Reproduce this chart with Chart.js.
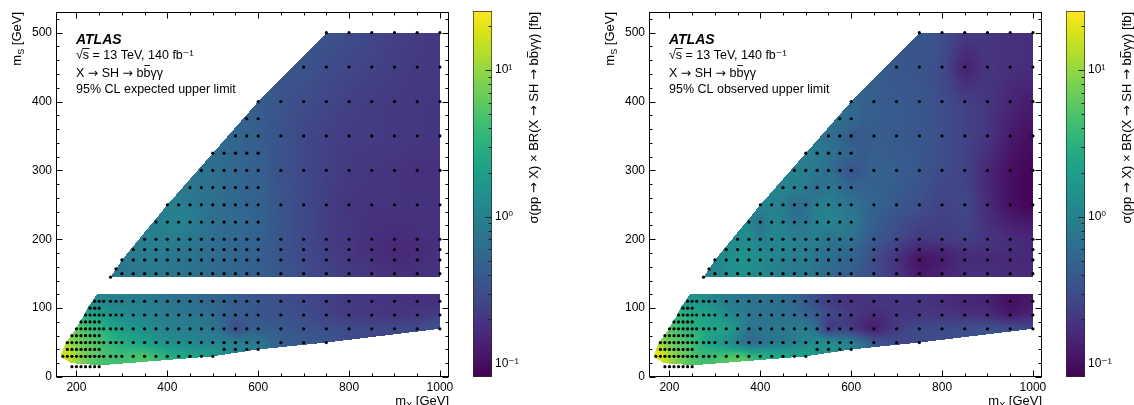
<!DOCTYPE html>
<html><head><meta charset="utf-8">
<script src="https://cdn.jsdelivr.net/npm/chart.js@4.4.1/dist/chart.umd.min.js"></script>
<style>
html,body{margin:0;padding:0;background:#fff;width:1134px;height:405px;overflow:hidden}
canvas{position:absolute;top:0}
</style></head><body>
<canvas id="m1" width="460" height="405" style="left:0px"></canvas>
<canvas id="c1" width="81" height="405" style="left:460px"></canvas>
<canvas id="m2" width="460" height="405" style="left:593px"></canvas>
<canvas id="c2" width="81" height="405" style="left:1053px"></canvas>
<script>
// ---------------- DATA ----------------
// Low-mS block: rows of m_S [GeV], m_X grid points per row [GeV]
const mS_low = [15, 30, 40, 50, 60, 70, 80, 90, 100, 110];
const mX_low = [
  [190,200,210,220,230,240,250],
  [170,180,190,200,210,220,230,240,250,260,275,287,300,325,350,375,400,425,450,475,500],
  [180,190,200,210,220,230,240,250,525,550,575,600],
  [180,190,200,210,220,230,240,250,260,275,287,300,325,350,375,400,425,450,475,500,525,550,575,600,650,700,750],
  [190,200,210,220,230,240,250],
  [200,210,220,230,240,250,260,275,287,300,325,350,375,400,425,450,475,500,525,550,575,600,650,700,750,800,850,900,950,1000],
  [210,220,230,240,250],
  [220,230,240,250,260,275,287,300,325,350,375,400,425,450,475,500,525,550,575,600,650,700,750,800,850,900,950,1000],
  [230,240,250],
  [240,250,260,275,287,300,325,350,375,400,425,450,475,500,525,550,575,600,650,700,750,800,850,900,950,1000]
];
// expected upper limit [fb]
const exp_low = [
  [12,9,7,6,5,4.5,4],
  [20,18,14,11,9,7.5,6.5,6,5.5,5,4.5,4.3,4.3,4.6,5.5,4.2,3.3,2.8,2.5,2.2,2.0],
  [16,13,10,8.5,7.5,6.5,6,5.5,1.1,1.0,0.95,0.9],
  [11,9,7.5,6.5,6,5.5,5,4.5,3.8,3.4,3.1,2.8,2.4,2.0,1.6,1.3,1.2,1.1,1.0,1.0,1.1,1.05,0.9,0.75,0.45,0.4,0.38],
  [9,7.5,6.5,5.5,5,4.5,4],
  [6.5,5.5,4.5,4,3.6,3.3,2.8,2.5,2.2,1.9,1.6,1.4,1.15,1.0,0.95,0.9,0.85,0.75,0.55,0.25,0.4,0.45,0.4,0.35,0.32,0.3,0.28,0.28,0.3,0.38],
  [4.5,3.8,3.3,3,2.8],
  [2.6,2.3,2.1,1.9,1.7,1.5,1.4,1.3,1.15,1.05,0.95,0.88,0.82,0.78,0.7,0.6,0.5,0.42,0.4,0.37,0.33,0.3,0.24,0.21,0.2,0.2,0.2,0.22],
  [1.8,1.6,1.45],
  [1.2,1.1,1.05,1.0,1.0,0.98,0.95,0.9,0.82,0.75,0.68,0.62,0.57,0.52,0.48,0.44,0.4,0.37,0.32,0.28,0.24,0.21,0.2,0.19,0.18,0.18]
];
// observed upper limit [fb]
const obs_low = [
  [14,10,8,7,6,5.5,5],
  [24,22,16,12,10,8,7,6,5,4.5,4.2,4.2,4.5,5.5,6.5,5,3.5,3,2.8,2.6,2.4],
  [18,12,9,8,7,6.5,6,5.5,1.3,1.5,1.2,1.0],
  [9,7.5,6.5,6,5.5,5,4.5,4,3.2,2.6,2.2,1.8,1.2,0.8,0.45,0.6,0.7,0.72,0.8,1.1,1.4,1.5,1.3,1.1,0.4,0.3,0.28],
  [8,7,6,5,4.5,4,3.6],
  [6,5,4.5,4,3.5,3,2.6,2.4,2.3,2.2,2.6,1.4,0.7,0.8,0.8,0.85,0.9,1.0,0.6,0.15,0.25,0.18,0.11,0.22,0.3,0.3,0.32,0.35,0.33,0.3],
  [4,3.5,3,2.8,2.6],
  [4,3.5,3,2.8,2.5,2.3,2.1,2.0,1.2,1.0,0.8,0.7,0.7,0.65,0.6,0.5,0.4,0.3,0.25,0.22,0.16,0.2,0.2,0.2,0.18,0.17,0.11,0.15],
  [2.6,2.2,2.0],
  [1.4,1.5,1.4,1.3,1.2,1.1,0.9,0.8,0.75,0.7,0.65,0.6,0.55,0.4,0.3,0.22,0.2,0.18,0.2,0.2,0.19,0.17,0.15,0.14,0.1,0.12]
];
// High-mS block
const mS_up = [145, 150, 157, 170, 185, 200, 225, 250, 275, 300, 325, 350, 375, 400, 450, 500];
const mX_up = [
  [275],
  [300,325,350,375,400,425,450,475,500,525,550,575,600,650,700,750,800,850,900,950,1000],
  [287],
  [300,325,350,375,400,425,450,475,500,525,550,575,600,650,700,750,800,850,900,950,1000],
  [325,350,375,400,425,450,475,500,525,550,575,600,650,700,750,800,850,900,950,1000],
  [350,375,400,425,450,475,500,525,550,575,600,650,700,750,800,850,900,950,1000],
  [375,400,425,450,475,500,525,550,575,600],
  [400,425,450,475,500,525,550,575,600,650,700,750,800,850,900,950,1000],
  [450,475,500,525,550,575,600],
  [475,500,525,550,575,600,650,700,750,800,850,900,950,1000],
  [500,525,550,575,600],
  [550,575,600,650,700,750,800,850,900,950,1000],
  [575,600],
  [600,650,700,750,800,850,900,950,1000],
  [700,750,800,850,900,950,1000],
  [750,800,850,900,950,1000]
];
const exp_up = [
  [0.72],
  [0.75,0.8,0.82,0.82,0.78,0.74,0.7,0.65,0.6,0.56,0.53,0.5,0.46,0.38,0.3,0.25,0.22,0.2,0.18,0.18,0.19],
  [0.76],
  [0.8,0.85,0.88,0.85,0.8,0.76,0.7,0.65,0.6,0.56,0.53,0.5,0.46,0.37,0.29,0.24,0.2,0.18,0.16,0.17,0.18],
  [0.85,0.9,0.9,0.86,0.8,0.74,0.68,0.62,0.57,0.53,0.5,0.46,0.36,0.28,0.23,0.2,0.17,0.155,0.165,0.18],
  [0.9,0.95,0.92,0.88,0.8,0.72,0.64,0.58,0.55,0.52,0.48,0.36,0.28,0.23,0.2,0.18,0.16,0.17,0.18],
  [0.92,1.02,1.1,0.95,0.78,0.66,0.6,0.57,0.55,0.5],
  [0.9,0.92,0.85,0.74,0.66,0.6,0.55,0.52,0.48,0.36,0.28,0.23,0.19,0.19,0.19,0.19,0.19],
  [0.8,0.74,0.66,0.6,0.55,0.51,0.47],
  [0.72,0.66,0.6,0.55,0.5,0.45,0.34,0.28,0.24,0.21,0.2,0.19,0.18,0.18],
  [0.62,0.57,0.52,0.48,0.44],
  [0.55,0.5,0.44,0.34,0.28,0.24,0.22,0.22,0.21,0.2,0.2],
  [0.48,0.43],
  [0.43,0.36,0.3,0.27,0.24,0.22,0.21,0.2,0.2],
  [0.36,0.3,0.27,0.25,0.23,0.21,0.2],
  [0.36,0.3,0.27,0.24,0.22,0.21]
];
const obs_up = [
  [1.0],
  [1.0,1.2,1.4,1.3,1.2,1.0,0.9,0.8,0.85,0.7,0.6,0.5,0.45,0.3,0.2,0.12,0.14,0.18,0.18,0.17,0.16],
  [1.1],
  [1.1,1.3,1.5,1.4,1.3,1.1,1.0,0.85,0.9,0.7,0.6,0.55,0.5,0.3,0.18,0.1,0.12,0.16,0.16,0.15,0.15],
  [1.2,1.3,1.4,1.2,0.9,1.1,1.0,0.9,0.8,0.7,0.6,0.55,0.33,0.22,0.14,0.15,0.18,0.18,0.17,0.16],
  [1.2,1.3,0.9,1.2,1.1,1.0,0.9,1.0,0.6,0.8,0.7,0.4,0.28,0.2,0.22,0.24,0.2,0.17,0.15],
  [1.2,0.6,1.1,1.0,0.7,0.75,1.0,1.1,1.0,0.8],
  [1.2,1.0,0.9,0.55,0.6,0.95,1.0,0.85,0.7,0.5,0.4,0.33,0.24,0.28,0.16,0.1,0.085],
  [1.1,1.0,0.9,0.55,0.8,0.65,0.5],
  [0.95,0.9,0.8,0.6,0.5,0.32,0.5,0.45,0.38,0.3,0.25,0.15,0.1,0.085],
  [0.9,0.85,0.7,0.6,0.5],
  [0.65,0.55,0.35,0.45,0.4,0.38,0.32,0.25,0.2,0.12,0.1],
  [0.65,0.6],
  [0.55,0.45,0.4,0.38,0.3,0.24,0.2,0.15,0.12],
  [0.38,0.36,0.3,0.13,0.2,0.18,0.17],
  [0.38,0.33,0.22,0.2,0.18,0.17]
];
// interpolation domains (outline of each block, in GeV)
const lowRegionX = [245,1000,1000,750,600,500,253,190,172,166,176,190,209,226,245];
const lowRegionY = [120,120,70,50,40,30,17,20,26,33,49,61,81,102,120];
const upRegionX  = [275,1000,1000,750,600,500,400,300,275];
const upRegionY  = [145,145,500,500,400,325,250,170,145];
// axes
const xRange = [155, 1020];
const yRange = [0, 530];
const xTicks = [200, 400, 600, 800, 1000];
const yTicks = [0, 100, 200, 300, 400, 500];
const zRange = [0.081, 25.2];
const zTicks = [0.1, 1, 10];
const zTickLabels = ['10\u207B\u00B9', '10\u2070', '10\u00B9'];
const panelLabels = ['95% CL expected upper limit', '95% CL observed upper limit'];

// ---------------- STYLE / HELPERS ----------------
const F = "'Liberation Sans', Arial, Helvetica, 'DejaVu Sans', sans-serif";
const AF = "'DejaVu Sans', sans-serif";
Chart.defaults.font.family = F;
Chart.defaults.color = '#000';
const VIR = ['#440154','#471365','#482475','#463480','#414487','#3b528b','#355f8d','#2f6c8e','#2a788e','#25848e','#21918c','#1e9c89','#22a884','#2fb47c','#44bf70','#5ec962','#7ad151','#9bd93c','#bddf26','#dfe318','#fde725'];
const VRGB = VIR.map(h => [parseInt(h.substr(1,2),16), parseInt(h.substr(3,2),16), parseInt(h.substr(5,2),16)]);
const LMIN = Math.log10(zRange[0]), LMAX = Math.log10(zRange[1]);
function cmapT(t){
  t = Math.max(0, Math.min(1, t));
  const f = t*(VRGB.length-1), i = Math.min(VRGB.length-2, Math.floor(f)), u = f-i;
  const a = VRGB[i], b = VRGB[i+1];
  return [a[0]+(b[0]-a[0])*u, a[1]+(b[1]-a[1])*u, a[2]+(b[2]-a[2])*u];
}
function rowValue(xs, lv, x){
  const n = xs.length, tol = 20, gap = 100;
  if (x <= xs[0]) return (xs[0]-x <= tol) ? lv[0] : NaN;
  if (x >= xs[n-1]) return (x-xs[n-1] <= tol) ? lv[n-1] : NaN;
  for (let k=0;k<n-1;k++){
    if (x <= xs[k+1]){
      const d = xs[k+1]-xs[k];
      if (d > gap) return NaN;
      const t = (x-xs[k])/d;
      return lv[k]*(1-t)+lv[k+1]*t;
    }
  }
  return NaN;
}
function blur(fld, W, H, r){
  const tmp = new Float32Array(W*H);
  for (let j=0;j<H;j++){
    for (let i=0;i<W;i++){
      const k = j*W+i;
      if (isNaN(fld[k])) { tmp[k] = NaN; continue; }
      let s=0, c=0;
      for (let q=Math.max(0,i-r); q<=Math.min(W-1,i+r); q++){ const v = fld[j*W+q]; if (!isNaN(v)){ s+=v; c++; } }
      tmp[k] = s/c;
    }
  }
  for (let i=0;i<W;i++){
    for (let j=0;j<H;j++){
      const k = j*W+i;
      if (isNaN(tmp[k])) { fld[k] = NaN; continue; }
      let s=0, c=0;
      for (let q=Math.max(0,j-r); q<=Math.min(H-1,j+r); q++){ const v = tmp[q*W+i]; if (!isNaN(v)){ s+=v; c++; } }
      fld[k] = s/c;
    }
  }
}
function makeHeat(regions){
  return {
    id:'heat',
    beforeDatasetsDraw(chart){
      const a = chart.chartArea, sx = chart.scales.x, sy = chart.scales.y, ctx = chart.ctx;
      const L = Math.round(a.left), T = Math.round(a.top);
      const W = Math.round(a.right)-L, H = Math.round(a.bottom)-T;
      const fld = new Float32Array(W*H).fill(NaN);
      const colX = new Float64Array(W), rowY = new Float64Array(H);
      for (let i=0;i<W;i++) colX[i] = sx.getValueForPixel(L+i+0.5);
      for (let j=0;j<H;j++) rowY[j] = sy.getValueForPixel(T+j+0.5);
      for (const R of regions){
        const nr = R.ms.length;
        const lv = R.vals.map(r => r.map(v => Math.log10(v)));
        const cv = new Float64Array(W*nr);
        for (let i=0;i<W;i++) for (let r=0;r<nr;r++) cv[i*nr+r] = rowValue(R.mx[r], lv[r], colX[i]);
        const px = R.px, py = R.py, ne = px.length;
        for (let j=0;j<H;j++){
          const yy = rowY[j];
          const cr = [];
          for (let e=0;e<ne-1;e++){
            const x1=px[e], y1=py[e], x2=px[e+1], y2=py[e+1];
            if ((y1<=yy && y2>yy) || (y2<=yy && y1>yy)) cr.push(x1+(yy-y1)*(x2-x1)/(y2-y1));
          }
          if (cr.length < 2) continue;
          cr.sort((p,q)=>p-q);
          for (let i=0;i<W;i++){
            const xx = colX[i];
            let inside = false;
            for (let c=0;c+1<cr.length;c+=2) if (xx>=cr[c] && xx<=cr[c+1]) { inside = true; break; }
            if (!inside) continue;
            let vb=NaN, yb=0, va=NaN, ya=0;
            for (let r=nr-1;r>=0;r--){ if (R.ms[r] <= yy){ const v = cv[i*nr+r]; if (!isNaN(v)){ vb=v; yb=R.ms[r]; break; } } }
            for (let r=0;r<nr;r++){ if (R.ms[r] > yy){ const v = cv[i*nr+r]; if (!isNaN(v)){ va=v; ya=R.ms[r]; break; } } }
            let l;
            if (!isNaN(vb) && !isNaN(va)) l = vb+(va-vb)*(yy-yb)/(ya-yb);
            else if (!isNaN(vb)) l = vb; else if (!isNaN(va)) l = va; else continue;
            fld[j*W+i] = l;
          }
        }
      }
      blur(fld, W, H, 4);
      blur(fld, W, H, 3);
      const img = ctx.createImageData(W, H), d = img.data;
      for (let k=0;k<W*H;k++){
        const l = fld[k];
        if (isNaN(l)) continue;
        const c = cmapT((l-LMIN)/(LMAX-LMIN));
        d[4*k]=c[0]; d[4*k+1]=c[1]; d[4*k+2]=c[2]; d[4*k+3]=255;
      }
      const off = document.createElement('canvas'); off.width = W; off.height = H;
      off.getContext('2d').putImageData(img, 0, 0);
      ctx.drawImage(off, L, T);
    }
  };
}
const framePlugin = {
  id:'frame',
  afterDatasetsDraw(chart){
    const {ctx, chartArea:a, scales:{x, y}} = chart;
    ctx.save();
    ctx.strokeStyle = '#000'; ctx.lineWidth = 1;
    const L = Math.round(a.left)+0.5, R = Math.round(a.right)-0.5, T = Math.round(a.top)+0.5, B = Math.round(a.bottom)-0.5;
    ctx.strokeRect(L, T, R-L, B-T);
    ctx.beginPath();
    for (let v = Math.ceil(x.min/50)*50; v <= x.max; v += 50){
      const p = Math.round(x.getPixelForValue(v))+0.5, len = (v%200===0) ? 6 : 3;
      ctx.moveTo(p, B); ctx.lineTo(p, B-len);
      ctx.moveTo(p, T); ctx.lineTo(p, T+len);
    }
    for (let v = Math.ceil(y.min/20)*20; v <= y.max; v += 20){
      const p = Math.round(y.getPixelForValue(v))+0.5, len = (v%100===0) ? 6 : 3;
      ctx.moveTo(L, p); ctx.lineTo(L+len, p);
      ctx.moveTo(R, p); ctx.lineTo(R-len, p);
    }
    ctx.stroke();
    ctx.restore();
  }
};
// text with arrows rendered in a font with a full-width arrow
function richParts(s){ return s.split(/(\u2192)/).filter(p => p.length); }
function richWidth(ctx, s, size){
  let w = 0;
  for (const p of richParts(s)){ ctx.font = size + 'px ' + (p === '\u2192' ? AF : F); w += ctx.measureText(p).width; }
  return w;
}
function richDraw(ctx, s, x, y, size){
  for (const p of richParts(s)){
    ctx.font = size + 'px ' + (p === '\u2192' ? AF : F);
    ctx.fillText(p, x, y);
    x += ctx.measureText(p).width;
  }
}
function drawParts(ctx, parts, xEnd, y){
  let w = 0;
  for (const p of parts){ ctx.font = p.f; w += ctx.measureText(p.t).width; }
  let x = xEnd - w;
  for (const p of parts){ ctx.font = p.f; ctx.fillText(p.t, x, y + (p.dy||0)); x += ctx.measureText(p.t).width; }
}
function makeText(label){
  return {
    id:'texts',
    afterDraw(chart){
      const {ctx, chartArea:a} = chart;
      ctx.save();
      ctx.fillStyle = '#000'; ctx.strokeStyle = '#000'; ctx.textAlign = 'left'; ctx.textBaseline = 'alphabetic';
      const x0 = a.left + 20, fs = 12.5;
      ctx.font = 'italic bold 14px ' + F;
      ctx.fillText('ATLAS', x0, a.top + 32);
      ctx.font = fs + 'px ' + F;
      ctx.fillText('\u221As = 13 TeV, 140 fb\u207B\u00B9', x0, a.top + 46.5);
      const w1 = ctx.measureText('\u221A').width, w2 = ctx.measureText('\u221As').width;
      ctx.lineWidth = 0.9;
      ctx.beginPath(); ctx.moveTo(x0 + w1 - 0.5, a.top + 36.5); ctx.lineTo(x0 + w2 + 0.5, a.top + 36.5); ctx.stroke();
      const l3 = 'X \u2192 SH \u2192 bb\u03B3\u03B3';
      richDraw(ctx, l3, x0, a.top + 64.5, fs);
      const b1 = richWidth(ctx, 'X \u2192 SH \u2192 b', fs), b2 = richWidth(ctx, 'X \u2192 SH \u2192 bb', fs);
      ctx.beginPath(); ctx.moveTo(x0 + b1 + 0.8, a.top + 53.5); ctx.lineTo(x0 + b2 - 0.5, a.top + 53.5); ctx.stroke();
      ctx.font = fs + 'px ' + F;
      ctx.fillText(label, x0, a.top + 80.5);
      // axis titles
      const big = '13px ' + F, sub = '9px ' + F;
      drawParts(ctx, [{t:'m', f:big}, {t:'X', f:sub, dy:3}, {t:' [GeV]', f:big}], a.right, 405);
      ctx.translate(21, a.top);
      ctx.rotate(-Math.PI/2);
      drawParts(ctx, [{t:'m', f:big}, {t:'S', f:sub, dy:3}, {t:' [GeV]', f:big}], 0, 0);
      ctx.restore();
    }
  };
}
function pointsOf(msArr, mxArr){
  const out = [];
  msArr.forEach((ms, r) => mxArr[r].forEach(mx => out.push({x: mx, y: ms})));
  return out;
}
function mainChart(id, lowVals, upVals, label){
  const regions = [
    {ms: mS_low, mx: mX_low, vals: lowVals, px: lowRegionX, py: lowRegionY},
    {ms: mS_up, mx: mX_up, vals: upVals, px: upRegionX, py: upRegionY}
  ];
  return new Chart(document.getElementById(id), {
    type: 'scatter',
    data: { datasets: [{
      data: pointsOf(mS_low, mX_low).concat(pointsOf(mS_up, mX_up)),
      pointRadius: 1.6, pointHoverRadius: 1.6, pointBorderWidth: 0,
      backgroundColor: '#000', borderColor: '#000'
    }]},
    options: {
      responsive: false, animation: false, events: [],
      layout: { padding: { left: 16, top: 12, right: 11, bottom: 0 } },
      plugins: { legend: {display:false}, tooltip: {enabled:false} },
      scales: {
        x: { type:'linear', min: xRange[0], max: xRange[1],
             grid: {display:false, drawTicks:false, tickLength:0}, border: {display:false},
             afterBuildTicks: s => { s.ticks = xTicks.map(v => ({value:v})); },
             afterFit: s => { s.height = 28; },
             ticks: { callback: v => String(v), color:'#000', font:{size:12, family:F}, padding:3, maxRotation:0, autoSkip:false } },
        y: { type:'linear', min: yRange[0], max: yRange[1],
             grid: {display:false, drawTicks:false, tickLength:0}, border: {display:false},
             afterBuildTicks: s => { s.ticks = yTicks.map(v => ({value:v})); },
             afterFit: s => { s.width = 40; },
             ticks: { callback: v => String(v), color:'#000', font:{size:12, family:F}, padding:4, autoSkip:false } }
      }
    },
    plugins: [makeHeat(regions), framePlugin, makeText(label)]
  });
}
const cbPlugin = {
  id:'cbdeco',
  afterDatasetsDraw(chart){
    const {ctx, chartArea:a, scales:{y}} = chart;
    ctx.save();
    ctx.strokeStyle = '#222'; ctx.lineWidth = 1;
    const R = Math.round(a.right)-0.5;
    ctx.beginPath();
    for (let k=-2;k<=1;k++){
      for (let m=1;m<=9;m++){
        const v = m*Math.pow(10,k);
        if (v < y.min || v > y.max) continue;
        const p = Math.round(y.getPixelForValue(v))+0.5, len = (m===1) ? 6 : 3;
        ctx.moveTo(R, p); ctx.lineTo(R-len, p);
      }
    }
    ctx.stroke();
    // title
    ctx.fillStyle = '#000';
    ctx.translate(78, 12);
    ctx.rotate(-Math.PI/2);
    ctx.textAlign = 'left'; ctx.textBaseline = 'alphabetic';
    const fs = 13;
    const full = '\u03C3(pp \u2192 X) \u00D7 BR(X \u2192 SH \u2192 bb\u03B3\u03B3) [fb]';
    const w = richWidth(ctx, full, fs);
    richDraw(ctx, full, -w, 0, fs);
    const p1 = richWidth(ctx, '\u03C3(pp \u2192 X) \u00D7 BR(X \u2192 SH \u2192 b', fs);
    const p2 = richWidth(ctx, '\u03C3(pp \u2192 X) \u00D7 BR(X \u2192 SH \u2192 bb', fs);
    ctx.lineWidth = 0.9; ctx.strokeStyle = '#000';
    ctx.beginPath(); ctx.moveTo(-w + p1 + 0.8, -10.5); ctx.lineTo(-w + p2 - 0.5, -10.5); ctx.stroke();
    ctx.restore();
  }
};
function colorbar(id){
  return new Chart(document.getElementById(id), {
    type: 'bar',
    data: { labels: [''], datasets: [{
      data: [[zRange[0], zRange[1]]],
      backgroundColor: (c) => {
        const ch = c.chart, s = ch.scales.y;
        if (!ch.chartArea || !s) return VIR[0];
        const y0 = s.getPixelForValue(zRange[0]), y1 = s.getPixelForValue(zRange[1]);
        const g = ch.ctx.createLinearGradient(0, y0, 0, y1);
        VIR.forEach((col, i) => g.addColorStop(i/(VIR.length-1), col));
        return g;
      },
      borderColor: '#2a2a2a', borderWidth: 1, borderSkipped: false,
      barPercentage: 1, categoryPercentage: 1
    }]},
    options: {
      responsive: false, animation: false, events: [],
      layout: { padding: { left: 13, top: 11, right: 0, bottom: 28 } },
      plugins: { legend: {display:false}, tooltip: {enabled:false} },
      scales: {
        x: { display: false },
        y: { type:'logarithmic', position:'right', min: zRange[0], max: zRange[1],
             grid: {display:false, drawTicks:false, tickLength:0}, border: {display:false},
             afterBuildTicks: s => { s.ticks = zTicks.map(v => ({value:v, major:true})); },
             afterFit: s => { s.width = 49; },
             ticks: { callback: (v, i) => zTickLabels[i], color:'#000', font:{size:12, family:F}, padding:3, autoSkip:false } }
      }
    },
    plugins: [cbPlugin]
  });
}
mainChart('m1', exp_low, exp_up, panelLabels[0]);
colorbar('c1');
mainChart('m2', obs_low, obs_up, panelLabels[1]);
colorbar('c2');
</script>
</body></html>
